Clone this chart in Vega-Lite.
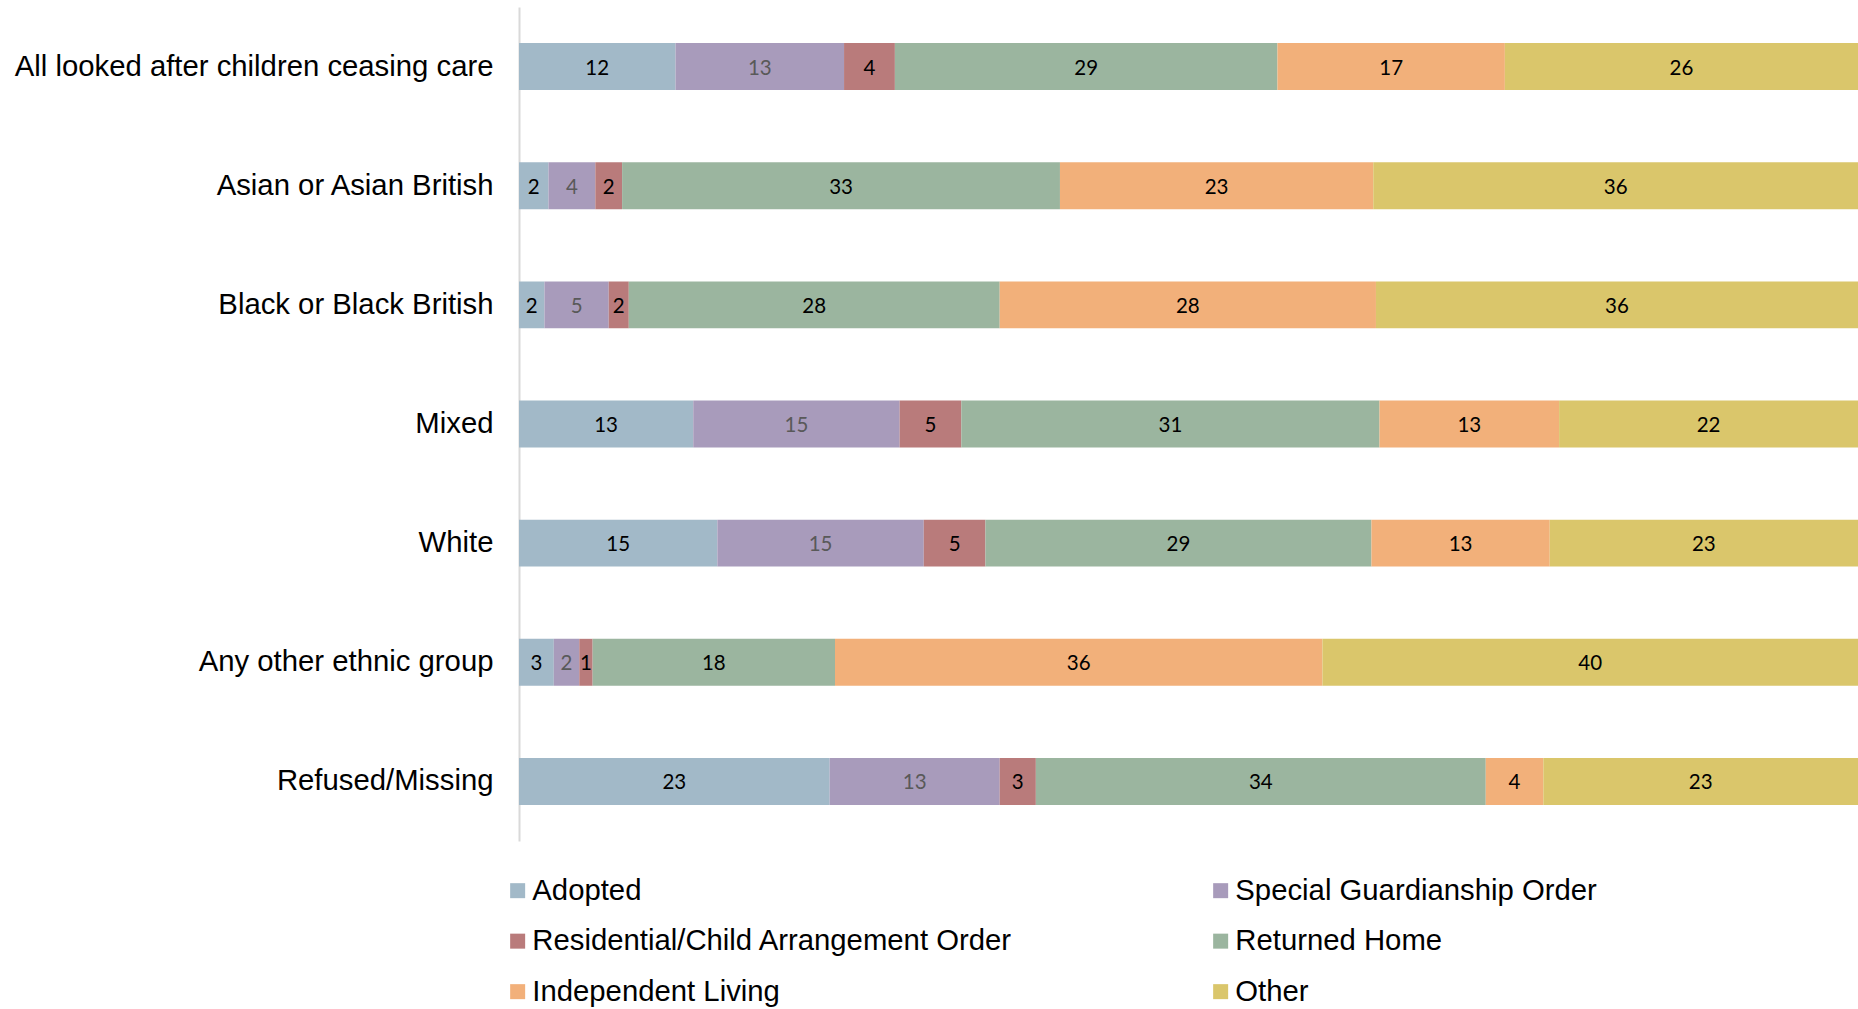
{
  "$schema": "https://vega.github.io/schema/vega-lite/v6.json",
  "width": 1339,
  "height": 834,
  "autosize": {"type": "none"},
  "padding": {"left": 519, "top": 7, "right": 0, "bottom": 168},
  "background": "white",
  "config": {"view": {"stroke": null}},
  "data": {
    "values": [
      {"g": "All looked after children ceasing care", "o": "Adopted", "k": 1, "p": 11.7, "v": 12},
      {"g": "All looked after children ceasing care", "o": "Special Guardianship Order", "k": 2, "p": 12.6, "v": 13},
      {"g": "All looked after children ceasing care", "o": "Residential/Child Arrangement Order", "k": 3, "p": 3.8, "v": 4},
      {"g": "All looked after children ceasing care", "o": "Returned Home", "k": 4, "p": 28.6, "v": 29},
      {"g": "All looked after children ceasing care", "o": "Independent Living", "k": 5, "p": 17.0, "v": 17},
      {"g": "All looked after children ceasing care", "o": "Other", "k": 6, "p": 26.4, "v": 26},
      {"g": "Asian or Asian British", "o": "Adopted", "k": 1, "p": 2.2, "v": 2},
      {"g": "Asian or Asian British", "o": "Special Guardianship Order", "k": 2, "p": 3.5, "v": 4},
      {"g": "Asian or Asian British", "o": "Residential/Child Arrangement Order", "k": 3, "p": 2.0, "v": 2},
      {"g": "Asian or Asian British", "o": "Returned Home", "k": 4, "p": 32.7, "v": 33},
      {"g": "Asian or Asian British", "o": "Independent Living", "k": 5, "p": 23.4, "v": 23},
      {"g": "Asian or Asian British", "o": "Other", "k": 6, "p": 36.2, "v": 36},
      {"g": "Black or Black British", "o": "Adopted", "k": 1, "p": 1.9, "v": 2},
      {"g": "Black or Black British", "o": "Special Guardianship Order", "k": 2, "p": 4.8, "v": 5},
      {"g": "Black or Black British", "o": "Residential/Child Arrangement Order", "k": 3, "p": 1.5, "v": 2},
      {"g": "Black or Black British", "o": "Returned Home", "k": 4, "p": 27.7, "v": 28},
      {"g": "Black or Black British", "o": "Independent Living", "k": 5, "p": 28.1, "v": 28},
      {"g": "Black or Black British", "o": "Other", "k": 6, "p": 36.0, "v": 36},
      {"g": "Mixed", "o": "Adopted", "k": 1, "p": 13.0, "v": 13},
      {"g": "Mixed", "o": "Special Guardianship Order", "k": 2, "p": 15.4, "v": 15},
      {"g": "Mixed", "o": "Residential/Child Arrangement Order", "k": 3, "p": 4.6, "v": 5},
      {"g": "Mixed", "o": "Returned Home", "k": 4, "p": 31.2, "v": 31},
      {"g": "Mixed", "o": "Independent Living", "k": 5, "p": 13.4, "v": 13},
      {"g": "Mixed", "o": "Other", "k": 6, "p": 22.3, "v": 22},
      {"g": "White", "o": "Adopted", "k": 1, "p": 14.8, "v": 15},
      {"g": "White", "o": "Special Guardianship Order", "k": 2, "p": 15.4, "v": 15},
      {"g": "White", "o": "Residential/Child Arrangement Order", "k": 3, "p": 4.6, "v": 5},
      {"g": "White", "o": "Returned Home", "k": 4, "p": 28.8, "v": 29},
      {"g": "White", "o": "Independent Living", "k": 5, "p": 13.3, "v": 13},
      {"g": "White", "o": "Other", "k": 6, "p": 23.0, "v": 23},
      {"g": "Any other ethnic group", "o": "Adopted", "k": 1, "p": 2.6, "v": 3},
      {"g": "Any other ethnic group", "o": "Special Guardianship Order", "k": 2, "p": 1.9, "v": 2},
      {"g": "Any other ethnic group", "o": "Residential/Child Arrangement Order", "k": 3, "p": 1.0, "v": 1},
      {"g": "Any other ethnic group", "o": "Returned Home", "k": 4, "p": 18.1, "v": 18},
      {"g": "Any other ethnic group", "o": "Independent Living", "k": 5, "p": 36.4, "v": 36},
      {"g": "Any other ethnic group", "o": "Other", "k": 6, "p": 40.0, "v": 40},
      {"g": "Refused/Missing", "o": "Adopted", "k": 1, "p": 23.2, "v": 23},
      {"g": "Refused/Missing", "o": "Special Guardianship Order", "k": 2, "p": 12.7, "v": 13},
      {"g": "Refused/Missing", "o": "Residential/Child Arrangement Order", "k": 3, "p": 2.7, "v": 3},
      {"g": "Refused/Missing", "o": "Returned Home", "k": 4, "p": 33.6, "v": 34},
      {"g": "Refused/Missing", "o": "Independent Living", "k": 5, "p": 4.3, "v": 4},
      {"g": "Refused/Missing", "o": "Other", "k": 6, "p": 23.5, "v": 23}
    ]
  },
  "transform": [
    {"stack": "p", "groupby": ["g"], "sort": [{"field": "k", "order": "ascending"}], "offset": "normalize", "as": ["x0", "x1"]},
    {"calculate": "(datum.x0 + datum.x1) / 2", "as": "xm"}
  ],
  "encoding": {
    "y": {
      "field": "g",
      "type": "nominal",
      "sort": ["All looked after children ceasing care", "Asian or Asian British", "Black or Black British", "Mixed", "White", "Any other ethnic group", "Refused/Missing"],
      "scale": {"paddingInner": 0.606, "paddingOuter": 0.303},
      "axis": {
        "title": null,
        "labelFont": "Liberation Sans",
        "labelFontSize": 29.3,
        "labelColor": "#000000",
        "ticks": false,
        "domainColor": "#d9d9d9",
        "domainWidth": 2,
        "labelPadding": 26,
        "labelLimit": 700,
        "grid": false
      }
    }
  },
  "layer": [
    {
      "mark": {"type": "bar"},
      "encoding": {
        "x": {"field": "x0", "type": "quantitative", "scale": {"domain": [0, 1]}, "axis": null},
        "x2": {"field": "x1"},
        "color": {
          "field": "o",
          "type": "nominal",
          "sort": null,
          "scale": {
            "domain": ["Adopted", "Residential/Child Arrangement Order", "Independent Living", "Special Guardianship Order", "Returned Home", "Other"],
            "range": ["#a2b9c8", "#b97b7b", "#f2b07a", "#a89bbb", "#9bb59f", "#dac66b"]
          },
          "legend": {
            "title": null,
            "orient": "none",
            "legendX": -16,
            "legendY": 869,
            "columns": 2,
            "symbolType": "square",
            "symbolSize": 225,
            "symbolStrokeWidth": 0,
            "symbolOpacity": 1,
            "labelFont": "Liberation Sans",
            "labelFontSize": 29.3,
            "labelColor": "#000000",
            "labelOffset": 0,
            "labelLimit": 700,
            "rowPadding": 20.5,
            "columnPadding": 193
          }
        }
      }
    },
    {
      "mark": {"type": "text", "font": "Lato", "fontSize": 20.5, "align": "center", "baseline": "middle", "dy": 2},
      "encoding": {
        "x": {"field": "xm", "type": "quantitative"},
        "text": {"field": "v", "type": "quantitative"},
        "color": {
          "condition": {"test": "datum.o === 'Special Guardianship Order'", "value": "#595959"},
          "value": "#000000"
        }
      }
    }
  ]
}
